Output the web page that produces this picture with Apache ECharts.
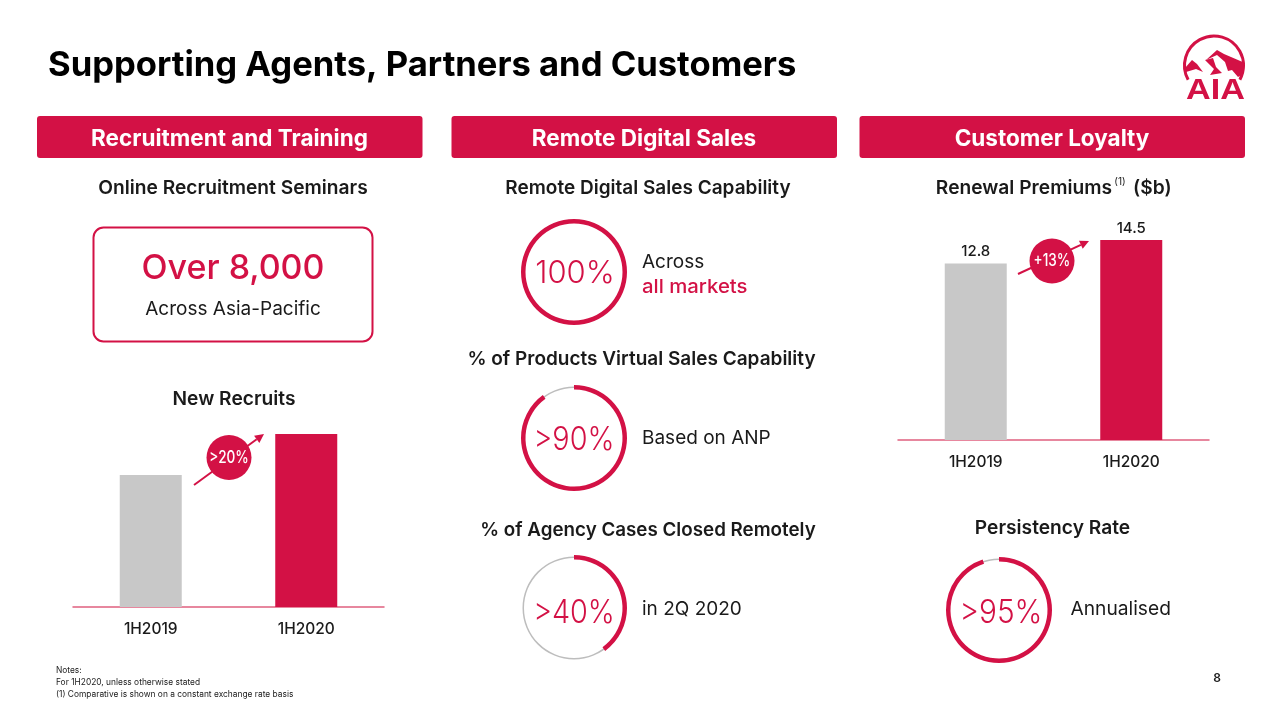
<!DOCTYPE html>
<html><head><meta charset="utf-8">
<style>html,body{margin:0;padding:0;background:#fff}#c{width:1280px;height:720px}</style>
<script src="https://cdn.jsdelivr.net/npm/echarts@6/dist/echarts.min.js"></script>
</head><body><div id="c"></div>
<script>
const categories = ['1H2019', '1H2020'];
const newRecruits = [100, 131];
const renewalPremiums = [12.8, 14.5];
const virtualCapability = [100, 90, 40];
const persistencyRate = [95];
const title = 'Supporting Agents, Partners and Customers';
const panelTitles = ['Recruitment and Training', 'Remote Digital Sales', 'Customer Loyalty'];
const notes = ['Notes:', 'For 1H2020, unless otherwise stated', '(1) Comparative is shown on a constant exchange rate basis'];

const RED = '#D31145', GREY = '#C8C8C8', INK = '#1a1a1a';
const FF = 'Inter, sans-serif';
function T(text, x, y, size, opt) {
  opt = opt || {};
  return { type: 'text', x, y, z: opt.z || 10, silent: true, scaleX: opt.sx || 1, style: {
    text, fill: opt.fill || INK, align: opt.align || 'center', verticalAlign: 'middle',
    font: (opt.weight || 400) + ' ' + size + 'px ' + FF } };
}
function panel(x, label) {
  return [
    { type: 'rect', shape: { x, y: 116, width: 385.5, height: 42, r: 3 }, style: { fill: RED }, silent: true },
    T(label, x + 192.5, 139, 22.5, { fill: '#fff', weight: 700 })
  ];
}
function arrow(x1, y1, x2, y2) {
  const a = Math.atan2(y2 - y1, x2 - x1), s = 9, w = 4.5;
  const bx = x2 - s * Math.cos(a), by = y2 - s * Math.sin(a);
  return [
    { type: 'line', shape: { x1, y1, x2: bx, y2: by }, style: { stroke: RED, lineWidth: 2 }, silent: true },
    { type: 'polygon', shape: { points: [[x2, y2], [bx - w * Math.sin(a), by + w * Math.cos(a)], [bx + w * Math.sin(a), by - w * Math.cos(a)]] }, style: { fill: RED }, silent: true }
  ];
}
function bubble(cx, cy, label) {
  return [
    { type: 'circle', z: 6, shape: { cx, cy, r: 22.5 }, style: { fill: RED }, silent: true },
    T(label, cx, cy, 17, { fill: '#fff', weight: 500, sx: 0.8 })
  ];
}
function ring(cx, cy, value) {
  const c = [cx, cy];
  const base = { type: 'pie', center: c, startAngle: 90, clockwise: true, silent: true, animation: false,
    label: { show: false }, labelLine: { show: false } };
  return [
    Object.assign({}, base, { radius: [50, 51.5], itemStyle: { color: '#BDBDBD' }, data: [{ value: 100 }] }),
    Object.assign({}, base, { radius: [48.5, 53], z: 3, data: [
      { value, itemStyle: { color: RED } },
      { value: 100 - value, itemStyle: { color: 'transparent' } }
    ] })
  ];
}
function barSeries(values, idx, showLabel) {
  return { type: 'bar', xAxisIndex: idx, yAxisIndex: idx, barWidth: 62, animation: false, silent: true,
    data: values.map((v, i) => ({ value: v, itemStyle: { color: i === 0 ? GREY : RED } })),
    label: { show: showLabel, position: 'top', distance: 4, color: INK, fontFamily: FF, fontSize: 15, fontWeight: 500 } };
}
function xAx(idx) {
  return { type: 'category', gridIndex: idx, data: categories,
    axisTick: { show: false }, axisLine: { lineStyle: { color: '#E0607F', width: 1.5 } },
    axisLabel: { color: INK, fontFamily: FF, fontSize: 15.5, fontWeight: 500, margin: 14 } };
}
const logo = [
  { type: 'arc', shape: { cx: 1214, cy: 65.5, r: 29.5, startAngle: Math.PI * 0.84, endAngle: Math.PI * 0.16, clockwise: true }, style: { stroke: RED, lineWidth: 3, fill: 'none' }, silent: true },
  { type: 'polygon', shape: { points: [[1217, 50], [1224, 54], [1245, 63], [1243, 74], [1238, 77], [1232, 70], [1228, 71], [1225, 62], [1217, 55], [1206, 60]] }, style: { fill: RED }, silent: true },
  { type: 'polygon', shape: { points: [[1205, 60], [1213, 58], [1216, 67], [1222, 73], [1210, 75], [1214, 69]] }, style: { fill: RED }, silent: true },
  { type: 'polygon', shape: { points: [[1185, 68], [1192, 60], [1197, 64], [1203, 72], [1196, 69], [1186, 72]] }, style: { fill: RED }, silent: true },
  { type: 'text', x: 1215.5, y: 91, silent: true, scaleX: 1.14, style: { text: 'AIA', fill: RED, align: 'center', verticalAlign: 'middle', font: '700 30px "Liberation Sans", sans-serif' } }
];
const graphic = [].concat(
  T(title, 48, 66, 34.6, { align: 'left', weight: 700, fill: '#000' }),
  logo,
  panel(37, panelTitles[0]), panel(451.5, panelTitles[1]), panel(859.5, panelTitles[2]),
  T('Online Recruitment Seminars', 233, 188, 19.2, { weight: 600 }),
  T('Remote Digital Sales Capability', 648, 188, 19, { weight: 600 }),
  T('Renewal Premiums', 1112, 188, 19.2, { weight: 600, align: 'right' }),
  T('(1)', 1120, 182, 10),
  T('($b)', 1133, 188, 19.2, { weight: 600, align: 'left' }),
  { type: 'rect', shape: { x: 93.5, y: 227.5, width: 279, height: 114, r: 10 }, style: { fill: '#fff', stroke: RED, lineWidth: 2 }, silent: true },
  T('Over 8,000', 233, 269, 34, { fill: RED, weight: 500 }),
  T('Across Asia-Pacific', 233, 309, 19),
  T('New Recruits', 234, 399, 19.2, { weight: 600 }),
  T('% of Products Virtual Sales Capability', 641.5, 359, 19, { weight: 600 }),
  T('% of Agency Cases Closed Remotely', 648, 530, 18.8, { weight: 600 }),
  T('Persistency Rate', 1052.5, 528, 19.2, { weight: 600 }),
  T(virtualCapability[0] + '%', 575, 274, 31, { fill: RED, weight: 300 }),
  T('>' + virtualCapability[1] + '%', 574, 440, 32, { fill: RED, weight: 300, sx: 0.9 }),
  T('>' + virtualCapability[2] + '%', 574, 613, 32, { fill: RED, weight: 300, sx: 0.9 }),
  T('>' + persistencyRate[0] + '%', 1001, 613, 32, { fill: RED, weight: 300, sx: 0.93 }),
  T('Across', 642, 262, 19, { align: 'left' }),
  T('all markets', 642, 287, 19, { align: 'left', fill: RED, weight: 500, sx: 1.07 }),
  T('Based on ANP', 642, 438, 19, { align: 'left' }),
  T('in 2Q 2020', 642, 609, 19, { align: 'left' }),
  T('Annualised', 1070.5, 609, 19.2, { align: 'left' }),
  arrow(194, 485, 264, 434), bubble(229, 457.5, '>20%'),
  arrow(1018, 274, 1089, 241), bubble(1052, 261, '+13%'),
  T(notes[0], 56, 670, 8.4, { align: 'left' }),
  T(notes[1], 56, 682, 8.4, { align: 'left' }),
  T(notes[2], 56, 694, 8.4, { align: 'left' }),
  T('8', 1217, 678, 12, { weight: 600 })
);
const option = {
  backgroundColor: '#fff',
  animation: false,
  grid: [
    { left: 73, top: 434, width: 311, height: 173 },
    { left: 898, top: 240, width: 311, height: 200 }
  ],
  xAxis: [xAx(0), xAx(1)],
  yAxis: [
    { type: 'value', gridIndex: 0, min: 0, max: 131, show: false },
    { type: 'value', gridIndex: 1, min: 0, max: 14.5, show: false }
  ],
  series: [barSeries(newRecruits, 0, false), barSeries(renewalPremiums, 1, true)].concat(
    ring(574, 272, virtualCapability[0]), ring(574, 438, virtualCapability[1]),
    ring(574, 608, virtualCapability[2]), ring(999, 610, persistencyRate[0])
  ),
  graphic: { elements: graphic }
};
echarts.init(document.getElementById('c'), null, { renderer: 'canvas' }).setOption(option);
</script></body></html>
